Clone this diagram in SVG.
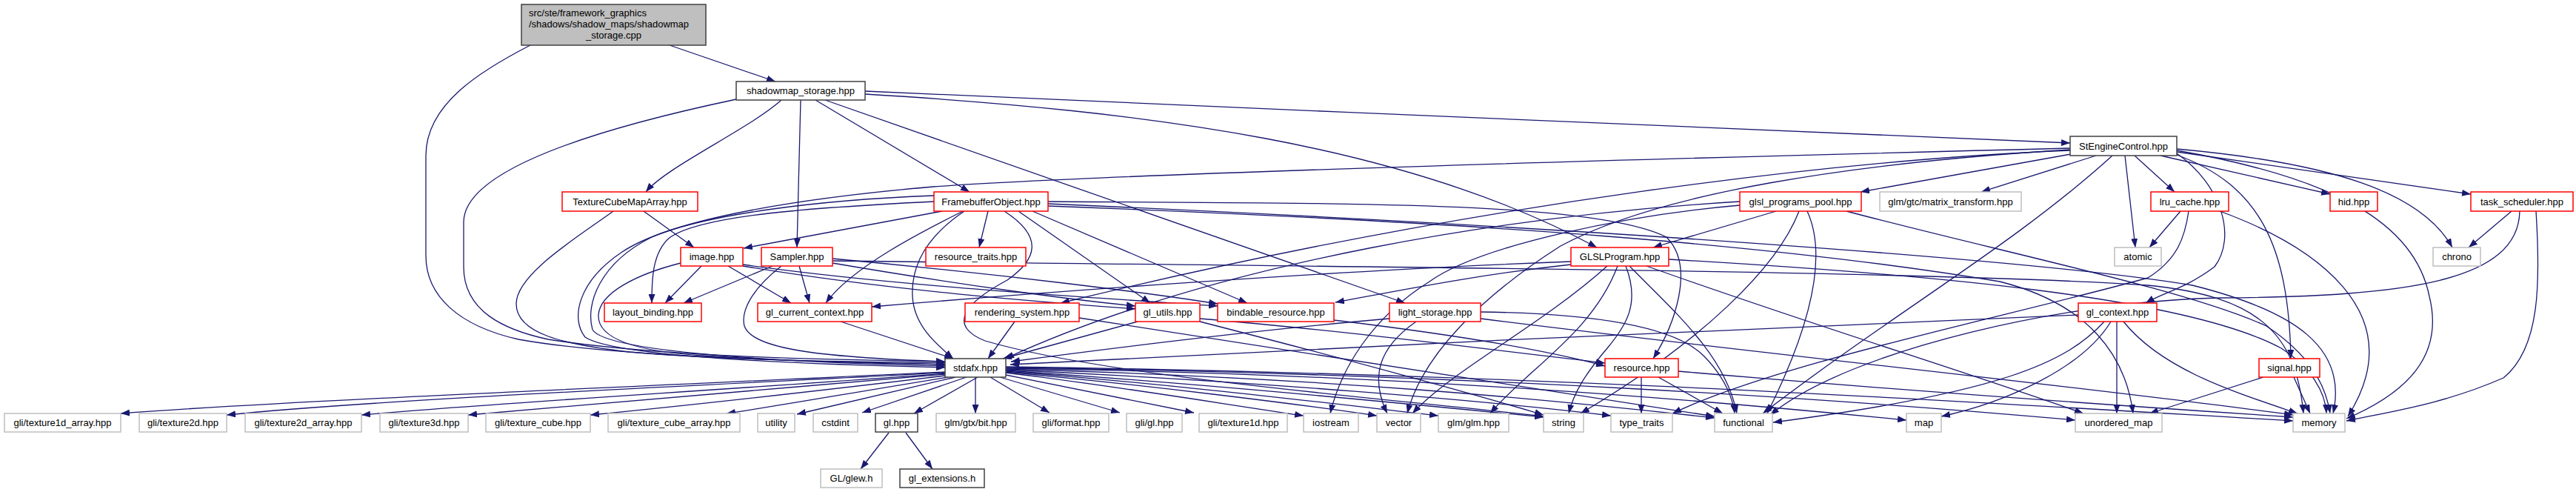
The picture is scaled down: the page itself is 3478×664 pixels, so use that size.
<svg xmlns="http://www.w3.org/2000/svg" width="3478" height="664" viewBox="0 0 3478 664">
<defs>
<marker id="a" viewBox="0 0 12 9" markerWidth="12" markerHeight="9" refX="12" refY="4.5" orient="auto" markerUnits="userSpaceOnUse"><path d="M0,0L12,4.5L0,9z" fill="#191970"/></marker>
<style>
.e path{fill:none;stroke:#191970;stroke-width:1.3;marker-end:url(#a)}
rect{stroke-width:1.5}
.r rect{fill:#fff;stroke:#ff0000}
.k rect{fill:#fff;stroke:#404040}
.g rect{fill:#fff;stroke:#bfbfbf}
text{font-family:"Liberation Sans",Arial,Helvetica,sans-serif;font-size:13px;fill:#000;text-anchor:middle}
</style>
</defs>
<rect width="3478" height="664" fill="#fff"/>
<g class="e" id="edges">
<path d="M904,61L1047,110"/>
<path d="M716,61C650,95 575,140 575,210L575,345C575,400 620,440 700,458C850,485 1150,488 1276,492"/>
<path d="M1055,135C1010,175 900,225 872,259"/>
<path d="M1081,135L1076,334"/>
<path d="M1101,135L1309,259"/>
<path d="M1114,135L1897,409"/>
<path d="M1168,127C1550,150 1900,195 2156,334"/>
<path d="M1168,123C1700,145 2300,175 2795,193"/>
<path d="M994,134C800,175 626,230 626,300L626,360C626,420 680,445 740,458C900,483 1150,486 1276,488"/>
<path d="M869,285L937,334"/>
<path d="M828,285C780,320 697,370 697,410C697,450 760,465 850,475C1000,488 1180,488 1276,490"/>
<path d="M1272,285L1004,335"/>
<path d="M1261,272C1100,280 950,290 905,320C880,340 880,380 880,409"/>
<path d="M1261,264C1100,270 950,290 880,320C810,355 790,410 800,445C820,478 1100,490 1276,494"/>
<path d="M2795,200C2200,215 1500,235 1260,252C1050,270 900,300 840,340C780,380 770,430 790,455C830,482 1100,492 1276,496"/>
<path d="M1300,285C1250,310 1150,360 1115,409"/>
<path d="M1302,285C1250,320 1230,360 1232,400C1234,440 1265,465 1287,484"/>
<path d="M1334,285L1322,334"/>
<path d="M1356,285C1410,320 1400,350 1360,378C1300,410 1280,440 1330,460C1500,510 1900,540 2084,562"/>
<path d="M1375,285L1553,409"/>
<path d="M1394,285L1684,409"/>
<path d="M1415,272C1800,275 2150,270 2250,320C2290,360 2260,440 2232,484"/>
<path d="M1415,275C2100,305 2750,350 2960,385C3100,420 3170,470 3150,558"/>
<path d="M1415,278C2000,300 2400,330 2700,380C2820,410 2870,480 2880,558"/>
<path d="M947,359L898,409"/>
<path d="M983,359L1068,409"/>
<path d="M919,355C860,370 810,395 808,425C806,460 870,475 950,480C1100,490 1200,490 1276,492"/>
<path d="M1003,357C1200,385 1450,400 1644,413"/>
<path d="M1003,359C1200,392 1400,407 1533,417"/>
<path d="M1043,359L923,409"/>
<path d="M1079,359L1093,409"/>
<path d="M1055,359C1015,390 1000,420 1005,440C1015,470 1100,482 1276,488"/>
<path d="M1124,349C1350,370 1550,395 1644,410"/>
<path d="M1124,355C1300,385 1450,405 1533,413"/>
<path d="M1124,352C1800,360 2600,365 2900,385C3050,400 3100,450 3110,558"/>
<path d="M1135,434L1287,484"/>
<path d="M1370,434L1334,484"/>
<path d="M1457,429C1800,480 2100,530 2315,562"/>
<path d="M1536,434L1354,484"/>
<path d="M1620,430C1800,445 2000,470 2167,490"/>
<path d="M1620,434C1760,470 1950,520 2084,560"/>
<path d="M1801,432C1950,450 2080,470 2167,494"/>
<path d="M1876,430C1700,445 1500,470 1365,488"/>
<path d="M1912,434C1860,470 1850,510 1873,558"/>
<path d="M1999,421C2150,423 2260,440 2300,480C2330,510 2340,540 2342,558"/>
<path d="M1999,430C2400,480 2800,520 3096,560"/>
<path d="M2121,353C1800,365 1400,395 1177,414"/>
<path d="M2121,357C2000,370 1900,390 1803,408"/>
<path d="M2170,359C2080,440 1960,500 1907,558"/>
<path d="M2184,359C2150,450 2060,500 2012,558"/>
<path d="M2195,359C2215,410 2195,440 2170,470C2140,505 2125,530 2118,558"/>
<path d="M2200,359C2260,420 2330,480 2345,558"/>
<path d="M2223,359C2450,440 2650,500 2813,558"/>
<path d="M2253,350C2600,370 2950,400 3080,470C3120,495 3140,530 3141,558"/>
<path d="M2796,208L2512,259"/>
<path d="M2830,210L2675,259"/>
<path d="M2852,210C2720,330 2560,420 2380,558"/>
<path d="M2869,210L2883,334"/>
<path d="M2882,210L2936,259"/>
<path d="M2917,210L3146,262"/>
<path d="M2939,205L3336,262"/>
<path d="M2939,201C3150,220 3270,260 3311,334"/>
<path d="M2939,203C3150,240 3260,300 3280,400C3300,480 3250,530 3168,565"/>
<path d="M2939,207C3000,250 3020,320 2990,360C2950,390 2920,395 2897,409"/>
<path d="M2939,209C3050,250 3090,330 3093,484"/>
<path d="M2795,203C2500,215 2000,270 1432,409"/>
<path d="M2795,202C2500,220 2240,260 2107,332C2000,400 1920,480 1900,558"/>
<path d="M2398,285L2232,334"/>
<path d="M2349,272C2050,290 1650,350 1357,484"/>
<path d="M2349,277C2200,290 2000,330 1930,380C1850,430 1810,500 1796,558"/>
<path d="M2429,285C2400,360 2300,460 2134,558"/>
<path d="M2440,285C2470,350 2440,450 2386,558"/>
<path d="M2493,285C2700,340 2950,390 3060,440C3120,480 3140,520 3146,558"/>
<path d="M2944,285L2902,334"/>
<path d="M2997,285C3120,330 3260,420 3170,562"/>
<path d="M2955,285C2950,320 2940,350 2900,375C2700,430 2400,490 2258,558"/>
<path d="M3391,285L3333,334"/>
<path d="M3402,285C3400,380 3250,400 3000,402C2800,405 2500,470 2390,560"/>
<path d="M3424,285C3430,380 3430,470 3380,510C3300,545 3230,555 3168,568"/>
<path d="M2216,509L2216,558"/>
<path d="M2239,509L2326,558"/>
<path d="M2266,501C2600,530 2900,550 3096,563"/>
<path d="M2806,425C2400,440 1800,470 1364,492"/>
<path d="M2850,434C2810,500 2700,545 2621,562"/>
<path d="M2841,434C2790,490 2700,530 2394,570"/>
<path d="M2858,434L2858,558"/>
<path d="M2867,434C2920,500 3020,530 3102,558"/>
<path d="M3056,509L2902,558"/>
<path d="M3097,509L3119,558"/>
<path d="M1276,502C900,520 400,540 163,558"/>
<path d="M1276,503C950,520 500,540 306,560"/>
<path d="M1276,504C1000,525 650,545 488,560"/>
<path d="M1276,505C1050,525 750,548 632,560"/>
<path d="M1276,507C1100,528 900,550 797,560"/>
<path d="M1280,509C1150,530 1050,548 981,558"/>
<path d="M1290,509L1076,559"/>
<path d="M1305,509L1164,557"/>
<path d="M1320,509L1234,558"/>
<path d="M1317,509L1317,558"/>
<path d="M1337,509L1417,557"/>
<path d="M1350,509L1512,557"/>
<path d="M1358,506L1612,557"/>
<path d="M1358,503C1500,520 1650,545 1760,561"/>
<path d="M1358,502C1550,520 1750,545 1859,561"/>
<path d="M1358,501C1600,520 1800,545 1942,561"/>
<path d="M1358,500C1650,520 1900,545 2084,563"/>
<path d="M1358,499C1700,515 2000,540 2175,561"/>
<path d="M1358,498C1800,510 2100,540 2315,564"/>
<path d="M1358,497C1900,505 2300,540 2574,567"/>
<path d="M1358,496C2000,505 2500,540 2802,567"/>
<path d="M1358,495C2100,505 2700,545 3096,568"/>
<path d="M1200,584L1162,633"/>
<path d="M1223,584L1259,633"/>
</g>
<g id="n_root"><rect x="704" y="6" width="249" height="55" fill="#bfbfbf" stroke="#404040"/><text x="714" y="22" style="text-anchor:start">src/ste/framework_graphics</text><text x="714" y="37" style="text-anchor:start">/shadows/shadow_maps/shadowmap</text><text x="828.5" y="52">_storage.cpp</text></g>
<g id="n_shadowmap_storage" class="k"><rect x="994" y="110" width="174" height="25"/><text x="1081" y="127">shadowmap_storage.hpp</text></g>
<g id="n_StEngineControl" class="k"><rect x="2795" y="184" width="144" height="26"/><text x="2867" y="201.5">StEngineControl.hpp</text></g>
<g id="n_TextureCubeMapArray" class="r"><rect x="759" y="259" width="183" height="26"/><text x="850.5" y="276.5">TextureCubeMapArray.hpp</text></g>
<g id="n_FramebufferObject" class="r"><rect x="1261" y="259" width="154" height="26"/><text x="1338" y="276.5">FramebufferObject.hpp</text></g>
<g id="n_glsl_programs_pool" class="r"><rect x="2349" y="259" width="164" height="26"/><text x="2431" y="276.5">glsl_programs_pool.hpp</text></g>
<g id="n_matrix_transform" class="g"><rect x="2538" y="259" width="191" height="26"/><text x="2633.5" y="276.5">glm/gtc/matrix_transform.hpp</text></g>
<g id="n_lru_cache" class="r"><rect x="2904" y="259" width="105" height="26"/><text x="2956.5" y="276.5">lru_cache.hpp</text></g>
<g id="n_hid" class="r"><rect x="3146" y="259" width="64" height="26"/><text x="3178" y="276.5">hid.hpp</text></g>
<g id="n_task_scheduler" class="r"><rect x="3336" y="259" width="138" height="26"/><text x="3405" y="276.5">task_scheduler.hpp</text></g>
<g id="n_image" class="r"><rect x="919" y="334" width="84" height="25"/><text x="961" y="351">image.hpp</text></g>
<g id="n_Sampler" class="r"><rect x="1028" y="334" width="96" height="25"/><text x="1076" y="351">Sampler.hpp</text></g>
<g id="n_resource_traits" class="r"><rect x="1250" y="334" width="135" height="25"/><text x="1317.5" y="351">resource_traits.hpp</text></g>
<g id="n_GLSLProgram" class="r"><rect x="2121" y="334" width="132" height="25"/><text x="2187" y="351">GLSLProgram.hpp</text></g>
<g id="n_atomic" class="g"><rect x="2855" y="334" width="63" height="25"/><text x="2886.5" y="351">atomic</text></g>
<g id="n_chrono" class="g"><rect x="3285" y="334" width="64" height="25"/><text x="3317" y="351">chrono</text></g>
<g id="n_layout_binding" class="r"><rect x="816" y="409" width="131" height="25"/><text x="881.5" y="426">layout_binding.hpp</text></g>
<g id="n_gl_current_context" class="r"><rect x="1023" y="409" width="154" height="25"/><text x="1100" y="426">gl_current_context.hpp</text></g>
<g id="n_rendering_system" class="r"><rect x="1303" y="409" width="154" height="25"/><text x="1380" y="426">rendering_system.hpp</text></g>
<g id="n_gl_utils" class="r"><rect x="1533" y="409" width="87" height="25"/><text x="1576.5" y="426">gl_utils.hpp</text></g>
<g id="n_bindable_resource" class="r"><rect x="1644" y="409" width="157" height="25"/><text x="1722.5" y="426">bindable_resource.hpp</text></g>
<g id="n_light_storage" class="r"><rect x="1876" y="409" width="123" height="25"/><text x="1937.5" y="426">light_storage.hpp</text></g>
<g id="n_gl_context" class="r"><rect x="2806" y="409" width="106" height="25"/><text x="2859" y="426">gl_context.hpp</text></g>
<g id="n_stdafx" class="k"><rect x="1276" y="484" width="82" height="25"/><text x="1317" y="501">stdafx.hpp</text></g>
<g id="n_resource" class="r"><rect x="2167" y="484" width="99" height="25"/><text x="2216.5" y="501">resource.hpp</text></g>
<g id="n_signal" class="r"><rect x="3050" y="484" width="82" height="25"/><text x="3091" y="501">signal.hpp</text></g>
<g id="n_texture1d_array" class="g"><rect x="6" y="558" width="157" height="25"/><text x="84.5" y="575">gli/texture1d_array.hpp</text></g>
<g id="n_texture2d" class="g"><rect x="188" y="558" width="118" height="25"/><text x="247" y="575">gli/texture2d.hpp</text></g>
<g id="n_texture2d_array" class="g"><rect x="331" y="558" width="157" height="25"/><text x="409.5" y="575">gli/texture2d_array.hpp</text></g>
<g id="n_texture3d" class="g"><rect x="513" y="558" width="119" height="25"/><text x="572.5" y="575">gli/texture3d.hpp</text></g>
<g id="n_texture_cube" class="g"><rect x="656" y="558" width="141" height="25"/><text x="726.5" y="575">gli/texture_cube.hpp</text></g>
<g id="n_texture_cube_array" class="g"><rect x="821" y="558" width="178" height="25"/><text x="910" y="575">gli/texture_cube_array.hpp</text></g>
<g id="n_utility" class="g"><rect x="1023" y="558" width="50" height="25"/><text x="1048" y="575">utility</text></g>
<g id="n_cstdint" class="g"><rect x="1098" y="558" width="60" height="25"/><text x="1128" y="575">cstdint</text></g>
<g id="n_gl" class="k"><rect x="1182" y="558" width="57" height="25"/><text x="1210.5" y="575">gl.hpp</text></g>
<g id="n_bit" class="g"><rect x="1264" y="558" width="107" height="25"/><text x="1317.5" y="575">glm/gtx/bit.hpp</text></g>
<g id="n_format" class="g"><rect x="1395" y="558" width="102" height="25"/><text x="1446" y="575">gli/format.hpp</text></g>
<g id="n_gli_gl" class="g"><rect x="1521" y="558" width="75" height="25"/><text x="1558.5" y="575">gli/gl.hpp</text></g>
<g id="n_texture1d" class="g"><rect x="1619" y="558" width="119" height="25"/><text x="1678.5" y="575">gli/texture1d.hpp</text></g>
<g id="n_iostream" class="g"><rect x="1760" y="558" width="74" height="25"/><text x="1797" y="575">iostream</text></g>
<g id="n_vector" class="g"><rect x="1859" y="558" width="59" height="25"/><text x="1888.5" y="575">vector</text></g>
<g id="n_glm" class="g"><rect x="1942" y="558" width="95" height="25"/><text x="1989.5" y="575">glm/glm.hpp</text></g>
<g id="n_string" class="g"><rect x="2084" y="558" width="54" height="25"/><text x="2111" y="575">string</text></g>
<g id="n_type_traits" class="g"><rect x="2175" y="558" width="83" height="25"/><text x="2216.5" y="575">type_traits</text></g>
<g id="n_functional" class="g"><rect x="2315" y="558" width="78" height="25"/><text x="2354" y="575">functional</text></g>
<g id="n_map" class="g"><rect x="2574" y="558" width="47" height="25"/><text x="2597.5" y="575">map</text></g>
<g id="n_unordered_map" class="g"><rect x="2802" y="558" width="117" height="25"/><text x="2860.5" y="575">unordered_map</text></g>
<g id="n_memory" class="g"><rect x="3096" y="558" width="70" height="25"/><text x="3131" y="575">memory</text></g>
<g id="n_glew" class="g"><rect x="1108" y="633" width="83" height="25"/><text x="1149.5" y="650">GL/glew.h</text></g>
<g id="n_gl_extensions" class="k"><rect x="1215" y="633" width="114" height="25"/><text x="1272" y="650">gl_extensions.h</text></g>
</svg>
